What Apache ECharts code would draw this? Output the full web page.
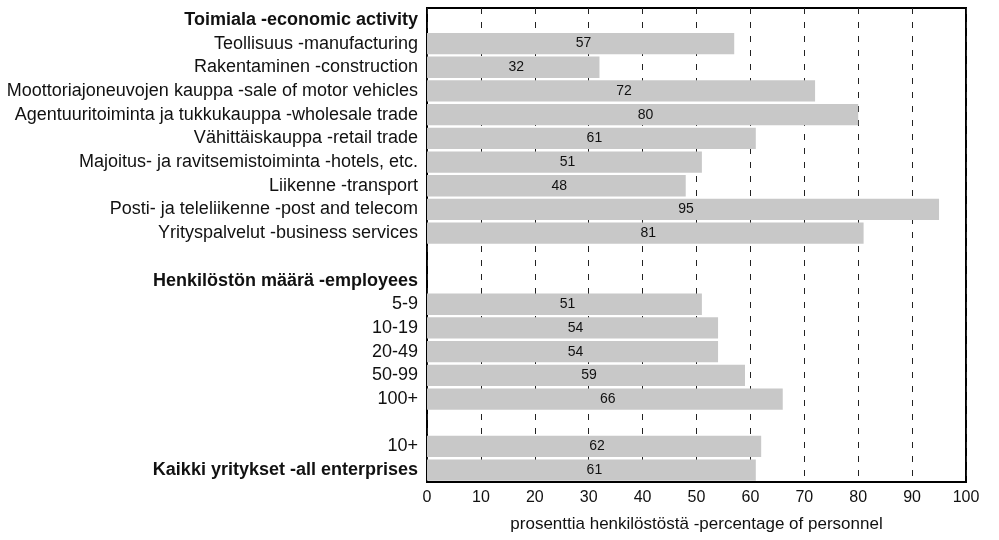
<!DOCTYPE html>
<html>
<head>
<meta charset="utf-8">
<script src="https://cdn.jsdelivr.net/npm/echarts@6/dist/echarts.min.js"></script>
<style>html,body{margin:0;padding:0;background:#fff}#c{width:999px;height:540px}</style>
</head>
<body>
<div id="c"></div>
<script>
const categories = [
  'Toimiala -economic activity',
  'Teollisuus -manufacturing',
  'Rakentaminen -construction',
  'Moottoriajoneuvojen kauppa -sale of motor vehicles',
  'Agentuuritoiminta ja tukkukauppa -wholesale trade',
  'Vähittäiskauppa -retail trade',
  'Majoitus- ja ravitsemistoiminta -hotels, etc.',
  'Liikenne -transport',
  'Posti- ja teleliikenne -post and telecom',
  'Yrityspalvelut -business services',
  ' ',
  'Henkilöstön määrä -employees',
  '5-9',
  '10-19',
  '20-49',
  '50-99',
  '100+',
  '  ',
  '10+',
  'Kaikki yritykset -all enterprises'
];
const boldCategories = [
  'Toimiala -economic activity',
  'Henkilöstön määrä -employees',
  'Kaikki yritykset -all enterprises'
];
const values = [null, 57, 32, 72, 80, 61, 51, 48, 95, 81, null, null, 51, 54, 54, 59, 66, null, 62, 61];
const xTicks = [0, 10, 20, 30, 40, 50, 60, 70, 80, 90, 100];
const xAxisTitle = 'prosenttia henkilöstöstä -percentage of personnel';

const font = '"Liberation Sans", Arial, sans-serif';
const chart = echarts.init(document.getElementById('c'));
chart.setOption({
  animation: false,
  backgroundColor: '#fff',
  grid: { left: 427, right: 33, top: 8, bottom: 58, show: true, borderColor: '#000', borderWidth: 2, backgroundColor: 'transparent' },
  xAxis: {
    type: 'value', min: xTicks[0], max: xTicks[xTicks.length - 1], interval: 10,
    axisLine: { show: false }, axisTick: { show: false },
    axisLabel: { color: '#111', fontFamily: font, fontSize: 16, margin: 8,
      formatter: v => xTicks.includes(v) ? String(v) : '' },
    splitLine: { show: true, lineStyle: { color: '#222', width: 1, type: [6, 8] } },
    name: xAxisTitle, nameLocation: 'middle', nameGap: 34,
    nameTextStyle: { color: '#111', fontFamily: font, fontSize: 17 }
  },
  yAxis: {
    type: 'category', data: categories, inverse: true,
    axisLine: { show: false }, axisTick: { show: false }, splitLine: { show: false },
    axisLabel: {
      margin: 9, color: '#111', fontFamily: font, fontSize: 18,
      formatter: v => boldCategories.includes(v) ? '{b|' + v + '}' : v,
      rich: { b: { fontWeight: 'bold', fontFamily: font, fontSize: 18, color: '#111' } }
    }
  },
  series: [{
    type: 'bar', data: values, barWidth: '90%',
    itemStyle: { color: '#c8c8c8' },
    label: { show: true, position: 'inside', offset: [3, 0], color: '#111', fontFamily: font, fontSize: 14 }
  }]
});
</script>
</body>
</html>
